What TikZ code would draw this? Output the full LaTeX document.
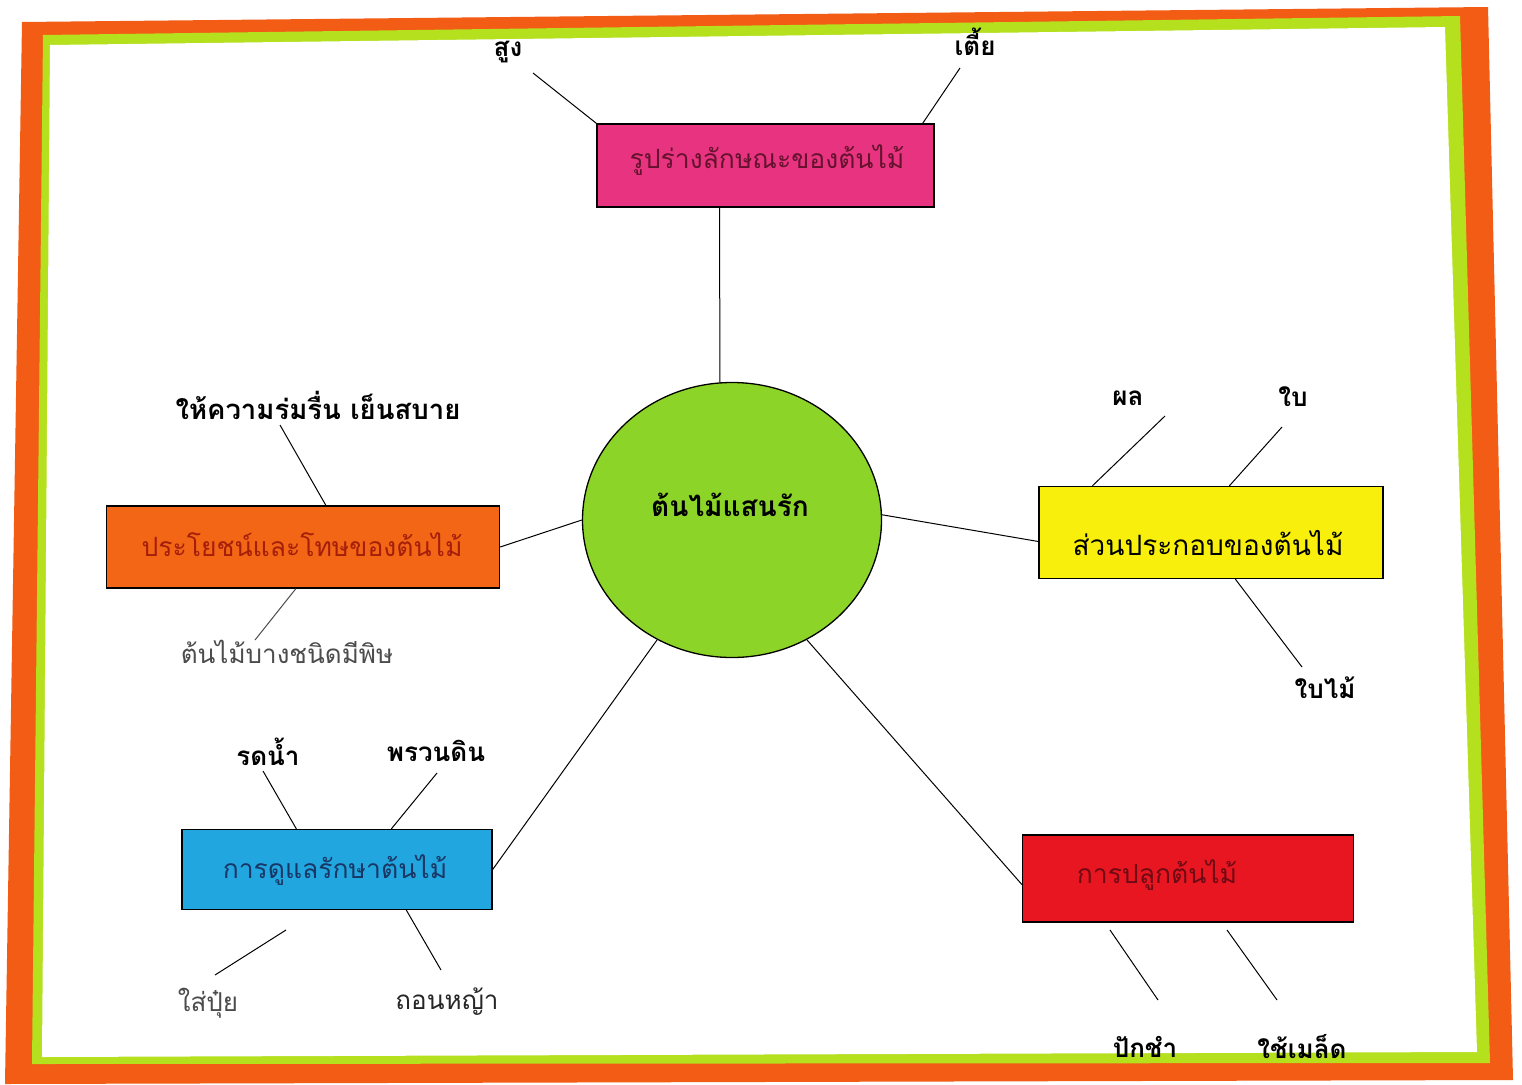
\documentclass[tikz,border=0pt]{standalone}
\usepackage{fontspec}
\setmainfont[Script=Thai]{Loma}
\usetikzlibrary{shapes.geometric,calc}
\definecolor{frameorange}{RGB}{242,92,20}
\definecolor{framegreen}{RGB}{180,224,30}
\definecolor{pinkbox}{RGB}{232,52,128}
\definecolor{yellowbox}{RGB}{248,240,12}
\definecolor{orangebox}{RGB}{242,102,22}
\definecolor{bluebox}{RGB}{34,166,224}
\definecolor{redbox}{RGB}{232,22,32}
\definecolor{circgreen}{RGB}{140,212,40}
\definecolor{pinktext}{RGB}{100,18,45}
\definecolor{orangetext}{RGB}{165,30,10}
\definecolor{bluetext}{RGB}{25,55,100}
\definecolor{redtext}{RGB}{110,10,20}
\begin{document}
\begin{tikzpicture}[x=1pt,y=-1pt,
  box/.style={draw=black, line width=1.3pt, inner sep=0pt},
  boxtext/.style={font=\fontsize{26.5}{30}\selectfont, inner sep=0pt},
  leaf/.style={font=\fontsize{26}{30}\selectfont\bfseries, inner sep=0pt},
  leaflight/.style={font=\fontsize{26}{30}\selectfont, inner sep=0pt, text=black!70},
  link/.style={draw=black, line width=1pt}]
\useasboundingbox (0,0) rectangle (1522,1084);
\fill[white] (0,0) rectangle (1522,1084);
% frame
\fill[frameorange] (22,22) -- (1488,7) -- (1513,1080) -- (5,1084) -- cycle;
\fill[framegreen] (43,35) -- (1460,16) -- (1490,1063) -- (32,1064) -- cycle;
\fill[white] (50,45) -- (1445,27) -- (1477,1052) -- (42,1057) -- cycle;
% center
\node[ellipse, draw=black, line width=1.3pt, fill=circgreen, minimum width=299pt, minimum height=275pt, inner sep=0pt] (circ) at (732,520) {};
\node[font=\fontsize{28}{32}\selectfont\bfseries, inner sep=0pt] (ctext) at (730,505) {ต้นไม้แสนรัก};
% boxes
\node[box, fill=pinkbox, minimum width=337pt, minimum height=83pt] (pink) at (765.5,165.5) {};
\node[boxtext, text=pinktext] (pinkt) at (767,160) {รูปร่างลักษณะของต้นไม้};
\node[box, fill=yellowbox, minimum width=344pt, minimum height=92pt] (yellow) at (1211,532.5) {};
\node[boxtext, font=\fontsize{28}{32}\selectfont] (yellowt) at (1208,543) {ส่วนประกอบของต้นไม้};
\node[box, fill=orangebox, minimum width=393pt, minimum height=82pt] (orange) at (303,547) {};
\node[boxtext, text=orangetext] (oranget) at (302,545) {ประโยชน์และโทษของต้นไม้};
\node[box, fill=bluebox, minimum width=310pt, minimum height=80pt] (blue) at (337,869.5) {};
\node[boxtext, text=bluetext] (bluet) at (335,870) {การดูแลรักษาต้นไม้};
\node[box, fill=redbox, minimum width=331pt, minimum height=87pt] (red) at (1188,878.5) {};
\node[boxtext, text=redtext] (redt) at (1157,875) {การปลูกต้นไม้};
% main connectors
\draw[link] (circ.95) -- ($(pink.south)+(-46,0)$);
\draw[link] (circ.2) -- ($(yellow.west)+(0,9)$);
\draw[link] (circ.180) -- (orange.east);
\draw[link] (circ.238) -- (blue.east);
\draw[link] (circ.302) -- ($(red.west)+(0,6)$);
% leaf texts
\node[leaf] (sung) at (508,52) {สูง};
\node[leaf] (tia) at (975,42) {เตี้ย};
\node[leaf] (phon) at (1128,398) {ผล};
\node[leaf] (bai) at (1293,397) {ใบ};
\node[leaf] (baimai) at (1325,688) {ใบไม้};
\node[leaf, font=\fontsize{27.5}{30}\selectfont\bfseries] (hai) at (318,405) {ให้ความร่มรื่น เย็นสบาย};
\node[leaflight] (tonmai) at (287,652) {ต้นไม้บางชนิดมีพิษ};
\node[leaf] (rod) at (268,752) {รดน้ำ};
\node[leaf] (phruan) at (436,751) {พรวนดิน};
\node[leaflight] (sai) at (208,1003) {ใส่ปุ๋ย};
\node[leaflight, text=black!85] (thon) at (447,1002) {ถอนหญ้า};
\node[leaf] (pak) at (1145,1047) {ปักชำ};
\node[leaf] (chai) at (1302,1047) {ใช้เมล็ด};
% leaf line ends
\coordinate (sungE) at (533,73);
\coordinate (tiaE) at (960,68);
\coordinate (phonE) at (1165,416);
\coordinate (baiE) at (1282,427);
\coordinate (baimaiE) at (1302,667);
\coordinate (haiE) at (280,425);
\coordinate (tonE) at (255,640);
\coordinate (rodE) at (263,771);
\coordinate (phruanE) at (437,773);
\coordinate (saiA) at (215,975);
\coordinate (saiB) at (286,930);
\coordinate (thonE) at (441,970);
\coordinate (pakA) at (1110,930);
\coordinate (pakB) at (1158,1000);
\coordinate (chaiA) at (1227,930);
\coordinate (chaiB) at (1277,1000);
% leaf lines
\draw[link] (sungE) -- (pink.north west);
\draw[link] (tiaE) -- ($(pink.north east)+(-12,0)$);
\draw[link] (phonE) -- ($(yellow.north west)+(54,0)$);
\draw[link] (baiE) -- ($(yellow.north west)+(191,0)$);
\draw[link] ($(yellow.south west)+(197,0)$) -- (baimaiE);
\draw[link] (haiE) -- ($(orange.north west)+(220,0)$);
\draw[link, black!70] ($(orange.south west)+(190,0)$) -- (tonE);
\draw[link] (rodE) -- ($(blue.north west)+(115,0)$);
\draw[link] (phruanE) -- ($(blue.north west)+(210,0)$);
\draw[link] (saiA) -- (saiB);
\draw[link] ($(blue.south west)+(225,0)$) -- (thonE);
\draw[link] (pakA) -- (pakB);
\draw[link] (chaiA) -- (chaiB);
\end{tikzpicture}
\end{document}
